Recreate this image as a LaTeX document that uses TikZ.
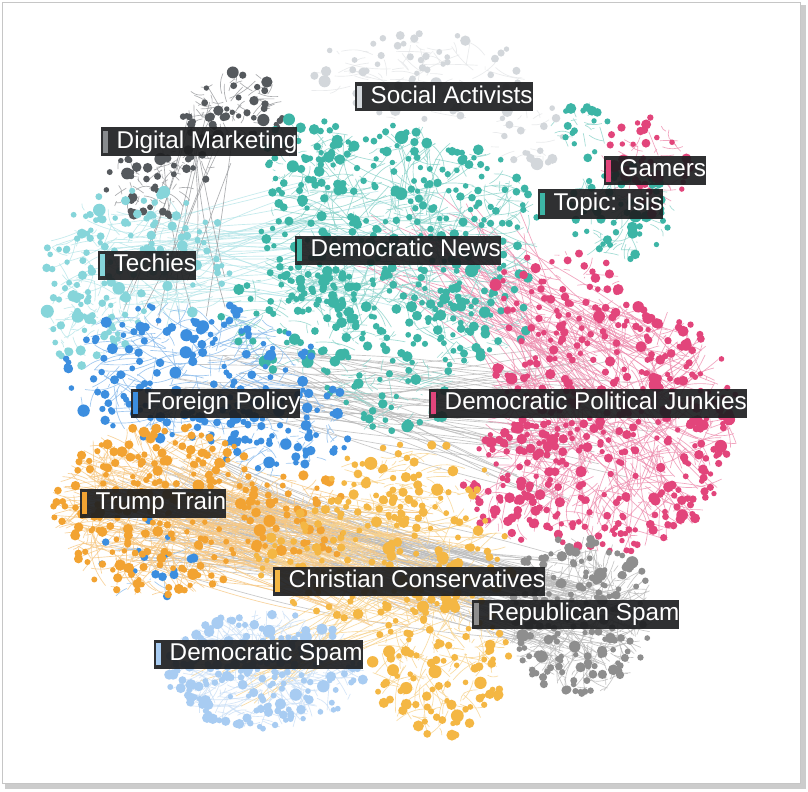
\documentclass[tikz,border=0pt]{standalone}
\usepackage{fontspec}
\setmainfont{Liberation Sans}
\usepackage{xcolor}
\usepackage{tikz}
\usetikzlibrary{positioning}
\definecolor{netsocial}{HTML}{D3D7DB}
\definecolor{netdigital}{HTML}{55595D}
\definecolor{netteal}{HTML}{3DB5A6}
\definecolor{netpink}{HTML}{E2457B}
\definecolor{nettech}{HTML}{86D5DA}
\definecolor{netblue}{HTML}{3C8EDF}
\definecolor{nettrump}{HTML}{F2A332}
\definecolor{netchrist}{HTML}{F4B744}
\definecolor{netrep}{HTML}{8E8E8E}
\definecolor{netspam}{HTML}{A8CCF2}
\definecolor{netink}{HTML}{1E1F21}

\newcommand\tagbar[1]{\hspace{1.6pt}{\color{#1}\rule[-4pt]{3.8pt}{16.5pt}}\hspace{6.2pt}}

% colour/cx/cy/rx/ry/nodes/edges (pixel units, y down)
\def\netblobs{netsocial/420/78/115/45/60/70, netsocial/525/135/45/35/18/18,
  netdigital/235/108/50/38/40/60, netdigital/150/185/45/35/30/45, netdigital/195/150/28/40/12/20,
  netteal/400/235/140/110/290/340, netteal/300/320/80/55/60/70, netteal/470/325/60/40/40/45,
  netteal/390/385/70/48/45/55,
  netteal/310/160/50/45/40/45, netteal/620/215/55/50/50/60, netteal/580/130/30/30/15/16,
  netpink/645/165/45/50/40/50,
  netpink/612/425/128/128/360/440, netpink/560/300/70/50/50/60, netpink/520/480/60/60/55/65,
  nettech/140/262/95/75/115/130, nettech/90/322/45/45/40/45,
  netblue/190/372/130/70/145/170, netblue/262/440/60/40/40/50, netblue/320/420/30/50/20/22,
  netblue/145/560/50/45/15/14,
  nettrump/160/510/110/88/220/380, nettrump/300/520/60/50/45/70,
  netchrist/385/560/130/65/150/200, netchrist/410/480/80/40/45/55, netchrist/440/662/70/75/105/130,
  netrep/580/615/75/80/180/280,
  netspam/265/670/100/60/190/260}

% colour/x1/y1/rx1/ry1/x2/y2/rx2/ry2/count
\def\netbridges{netrep/180/510/90/60/580/610/60/60/90, nettrump/160/510/100/70/400/570/100/60/100,
  netrep/250/385/80/50/560/420/100/80/45, netpink/450/250/100/60/620/400/100/100/55,
  nettech/150/260/60/50/380/240/100/80/40, netdigital/200/140/40/40/180/300/60/40/12,
  netchrist/400/600/60/40/250/670/60/40/22}

\begin{document}
\begin{tikzpicture}[x=0.75pt, y=-0.75pt,
  link/.style={draw=#1!60, line width=0.5pt, draw opacity=0.8},
  tag/.style={fill=netink, fill opacity=0.92, text opacity=1, text=white, anchor=west,
    inner sep=0pt, minimum height=21.75pt, font=\fontsize{18.2}{19}\selectfont}
]
\useasboundingbox (0,0) rectangle (808,792);
\pgfmathsetseed{2016}

% frame with shadow
\fill[gray!40] (5,5) rectangle (806,789);
\filldraw[draw=gray!45, fill=white] (2,2) rectangle (800,783);

% links between groups
\foreach \c/\xa/\ya/\rxa/\rya/\xb/\yb/\rxb/\ryb/\n in \netbridges {
  \foreach \k in {1,...,\n} {
    \pgfmathsetmacro\anga{360*rnd}\pgfmathsetmacro\rada{sqrt(rnd)}
    \pgfmathsetmacro\angb{360*rnd}\pgfmathsetmacro\radb{sqrt(rnd)}
    \pgfmathsetmacro\pxa{\xa+\rxa*\rada*cos(\anga)}
    \pgfmathsetmacro\pya{\ya+\rya*\rada*sin(\anga)}
    \pgfmathsetmacro\pxb{\xb+\rxb*\radb*cos(\angb)}
    \pgfmathsetmacro\pyb{\yb+\ryb*\radb*sin(\angb)}
    \pgfmathsetmacro\bnd{16*rnd-8}
    \draw[link=\c] (\pxa,\pya) to[bend left=\bnd] (\pxb,\pyb);
  }
}

% links inside groups: from a point part of the way to another point of the group
\foreach \c/\cx/\cy/\rx/\ry/\n/\e in \netblobs {
  \foreach \k in {1,...,\e} {
    \pgfmathsetmacro\ang{360*rnd}\pgfmathsetmacro\rad{sqrt(rnd)}
    \pgfmathsetmacro\px{\cx+\rx*\rad*cos(\ang)}
    \pgfmathsetmacro\py{\cy+\ry*\rad*sin(\ang)}
    \pgfmathsetmacro\angq{360*rnd}\pgfmathsetmacro\radq{sqrt(rnd)}
    \pgfmathsetmacro\frac{0.15+0.3*rnd}
    \pgfmathsetmacro\qx{\px+\frac*(\cx+\rx*\radq*cos(\angq)-\px)}
    \pgfmathsetmacro\qy{\py+\frac*(\cy+\ry*\radq*sin(\angq)-\py)}
    \pgfmathsetmacro\bnd{50*rnd-25}
    \draw[link=\c] (\px,\py) to[bend left=\bnd] (\qx,\qy);
  }
}

% accounts
\foreach \c/\cx/\cy/\rx/\ry/\n/\e in \netblobs {
  \foreach \k in {1,...,\n} {
    \pgfmathsetmacro\ang{360*rnd}\pgfmathsetmacro\rad{sqrt(rnd)}
    \pgfmathsetmacro\px{\cx+\rx*\rad*cos(\ang)}
    \pgfmathsetmacro\py{\cy+\ry*\rad*sin(\ang)}
    \pgfmathsetmacro\sz{2.0+3.0*rnd*rnd}
    \fill[\c] (\px,\py) circle[radius=\sz pt];
  }
}

% group labels
\node[tag] (social) at (355,97) {\tagbar{netsocial}Social Activists\hspace{9pt}};
\node[tag] (digital) at (101,142) {\tagbar{netdigital!70}Digital Marketing\hspace{9pt}};
\node[tag] (gamers) at (604,171) {\tagbar{netpink}Gamers\hspace{9pt}};
\node[tag] (isis) at (538,204) {\tagbar{netteal}Topic: Isis\hspace{9pt}};
\node[tag] (demnews) at (295,250) {\tagbar{netteal}Democratic News\hspace{9pt}};
\node[tag] (techies) at (98,265) {\tagbar{nettech}Techies\hspace{9pt}};
\node[tag] (foreign) at (131,403) {\tagbar{netblue}Foreign Policy\hspace{9pt}};
\node[tag] (junkies) at (429,403) {\tagbar{netpink}Democratic Political Junkies\hspace{9pt}};
\node[tag] (trump) at (80,503) {\tagbar{nettrump}Trump Train\hspace{9pt}};
\node[tag] (christ) at (273,581) {\tagbar{netchrist}Christian Conservatives\hspace{9pt}};
\node[tag] (repspam) at (472,614) {\tagbar{netrep}Republican Spam\hspace{9pt}};
\node[tag] (demspam) at (154,654) {\tagbar{netspam}Democratic Spam\hspace{9pt}};
\end{tikzpicture}
\end{document}
